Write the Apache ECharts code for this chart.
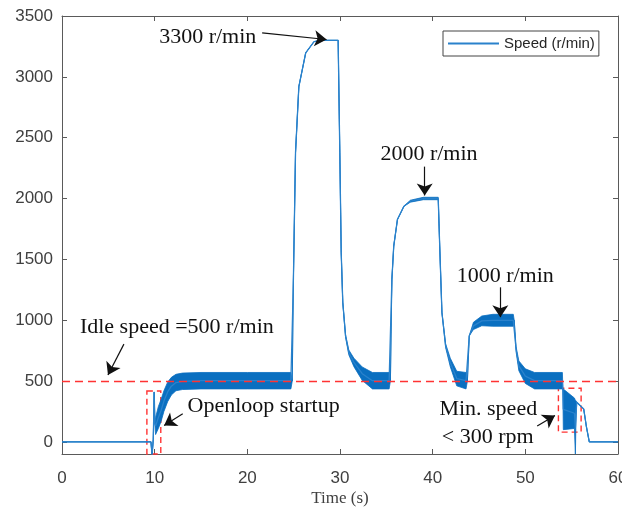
<!DOCTYPE html>
<html lang="en">
<head>
    <meta charset="UTF-8">
    <title>Speed</title>
    <script src="https://cdn.jsdelivr.net/npm/echarts@6/dist/echarts.min.js"></script>
    <style>
        html, body { margin: 0; padding: 0; background: #fff; }
    </style>
</head>
<body>
<div id="main" style="width: 622px;height:507px;"></div>

<script type="text/javascript">
    // time (s) and lower / upper edge of the noisy speed trace (r/min)
    var timeS = [0, 9.6, 9.72, 9.85, 9.95, 10.02, 10.1, 10.4, 10.7, 11.0, 11.4, 11.8, 12.3, 13.0, 15, 20, 24.7,
        24.85, 24.96, 25.2, 25.56, 26.3, 27.2, 28.2, 29.8, 29.98, 30.13, 30.3, 30.6, 30.95, 31.5, 32.4, 33.5, 35.3,
        35.44, 35.6, 35.8, 36.2, 36.9, 37.6, 39.0, 40.6, 40.76, 41.0, 41.4, 41.9, 42.6, 43.6,
        43.75, 43.95, 44.4, 45.3, 46.5, 48.7, 48.8, 49.0, 49.3, 50.0, 51.0, 54.0,
        54.05, 54.1, 55.3, 55.4, 55.45, 55.55, 56.3, 56.6, 56.9, 60];
    var speedLow = [0, 0, -110, 20, 410, 150, 60, 110, 170, 250, 330, 385, 420, 430, 435, 435, 435,
        500, 1281, 2377, 2920, 3197, 3290, 3300, 3300, 2377, 1557, 1147, 860, 715, 618, 505, 435, 435,
        500, 1336, 1609, 1828, 1937, 1970, 1990, 1990, 1609, 1063, 775, 618, 460, 435,
        500, 871, 923, 954, 950, 950, 1000, 742, 585, 480, 435, 435,
        420, 100, 110, -110, 110, 325, 270, 120, 0, 0];
    var speedHigh = [0, 0, -110, 20, 410, 150, 200, 290, 350, 420, 490, 530, 555, 565, 570, 570, 570,
        500, 1281, 2377, 2920, 3197, 3290, 3300, 3300, 2377, 1557, 1147, 880, 755, 688, 615, 570, 570,
        500, 1336, 1609, 1828, 1937, 1986, 2010, 2010, 1609, 1063, 805, 688, 580, 570,
        500, 871, 983, 1034, 1048, 1048, 1000, 782, 665, 600, 570, 570,
        434, 434, 360, 340, 340, 325, 270, 120, 0, 0];
    var idleSpeed = 500;
    var yTicks = [0, 500, 1000, 1500, 2000, 2500, 3000, 3500];

    var myChart = echarts.init(document.getElementById('main'));

    var midData = timeS.map(function (t, i) { return [t, (speedLow[i] + speedHigh[i]) / 2]; });

    var blue = '#0a6fc0';
    var axisColor = '#5a5a5a';
    var serif = '"Liberation Serif", "Times New Roman", serif';
    var sans = '"Liberation Sans", Arial, sans-serif';

    function arrow(a, b) {
        return [{coord: a}, {coord: b}];
    }

    var option = {
        animation: false,
        grid: {left: 62, right: 4, top: 16, bottom: 53, outerBoundsMode: 'none'},
        legend: {
            data: [{name: 'Speed (r/min)', icon: 'rect'}],
            left: 443, top: 31,
            padding: [5, 4, 5, 5],
            itemWidth: 51, itemHeight: 2,
            borderColor: '#444', borderWidth: 1,
            textStyle: {fontFamily: sans, fontSize: 15, color: '#262626', lineHeight: 14}
        },
        xAxis: [{
            type: 'value', min: 0, max: 60, interval: 10,
            name: 'Time (s)', nameLocation: 'middle', nameGap: 36, nameMoveOverlap: false,
            nameTextStyle: {fontFamily: serif, fontSize: 17, color: '#404040'},
            axisLine: {show: true, onZero: false, lineStyle: {color: axisColor}},
            axisTick: {inside: true, length: 5, lineStyle: {color: axisColor}},
            axisLabel: {fontFamily: sans, fontSize: 17, color: '#404040', margin: 16},
            splitLine: {show: false}
        }, {
            type: 'value', min: 0, max: 60, interval: 10, position: 'top',
            axisLine: {show: true, onZero: false, lineStyle: {color: axisColor}},
            axisTick: {show: true, inside: true, length: 5, lineStyle: {color: axisColor}},
            axisLabel: {show: false},
            splitLine: {show: false}
        }],
        yAxis: [{
            type: 'value', min: -100, max: 3500,
            axisLine: {show: true, onZero: false, lineStyle: {color: axisColor}},
            axisTick: {show: true, inside: true, length: 5, customValues: yTicks, lineStyle: {color: axisColor}},
            axisLabel: {fontFamily: sans, fontSize: 17, color: '#404040', margin: 9, customValues: yTicks,
                formatter: function (v) { return String(v); }},
            splitLine: {show: false}
        }, {
            type: 'value', min: -100, max: 3500, position: 'right',
            axisLine: {show: true, onZero: false, lineStyle: {color: axisColor}},
            axisTick: {show: true, inside: true, length: 5, customValues: yTicks, lineStyle: {color: axisColor}},
            axisLabel: {show: false},
            splitLine: {show: false}
        }],
        series: [
            {
                // noise band between the lower and upper edges
                name: 'band', type: 'custom', silent: true, clip: true,
                data: [[0, 0]],
                renderItem: function (params, api) {
                    var pts = [];
                    for (var i = 0; i < timeS.length; i++) pts.push(api.coord([timeS[i], speedHigh[i]]));
                    for (var j = timeS.length - 1; j >= 0; j--) pts.push(api.coord([timeS[j], speedLow[j]]));
                    return {type: 'polygon', shape: {points: pts},
                        style: {fill: blue, stroke: blue, lineWidth: 0.8}};
                }
            },
            {
                name: 'idle', type: 'line', data: [], silent: true,
                markLine: {
                    silent: true, symbol: 'none', label: {show: false},
                    lineStyle: {color: '#ff3333', width: 1.4, type: [8, 5]},
                    data: [{yAxis: idleSpeed}]
                }
            },
            {
                name: 'Speed (r/min)', type: 'line', data: midData, symbol: 'none',
                color: '#2a82cc',
                lineStyle: {width: 1.3, color: '#2a82cc'},
                markLine: {
                    silent: true, symbol: ['none', 'arrow'], symbolSize: 12,
                    label: {show: false},
                    lineStyle: {color: '#111', width: 1.2, type: 'solid'},
                    data: [
                        arrow([21.6, 3361], [28.55, 3307]),
                        arrow([39.14, 2262], [39.14, 2025]),
                        arrow([47.3, 1270], [47.3, 1025]),
                        arrow([6.68, 803], [4.96, 549]),
                        arrow([13.03, 230], [11.02, 134]),
                        arrow([51.28, 131], [53.2, 216])
                    ]
                },
                markArea: {
                    silent: true,
                    itemStyle: {color: 'rgba(0,0,0,0)', borderColor: '#ff3333', borderWidth: 1.4, borderType: [6, 4]},
                    data: [
                        [{coord: [9.16, 418]}, {coord: [10.66, -100]}],
                        [{coord: [53.57, 440]}, {coord: [56.02, 80]}]
                    ]
                },
                markPoint: {
                    silent: true, symbol: 'circle', symbolSize: 0,
                    label: {show: true, position: 'inside', formatter: '{b}', fontFamily: serif,
                        fontSize: 22, color: '#111'},
                    data: [
                        {name: '3300 r/min', coord: [15.73, 3328]},
                        {name: '2000 r/min', coord: [39.6, 2361]},
                        {name: '1000 r/min', coord: [47.83, 1361]},
                        {name: 'Idle speed =500 r/min', coord: [12.39, 943]},
                        {name: 'Openloop startup', coord: [21.76, 295]},
                        {name: 'Min. speed', coord: [46.0, 270]},
                        {name: '< 300 rpm', coord: [45.94, 41]}
                    ]
                }
            }
        ]
    };

    myChart.setOption(option);
</script>
</body>
</html>
